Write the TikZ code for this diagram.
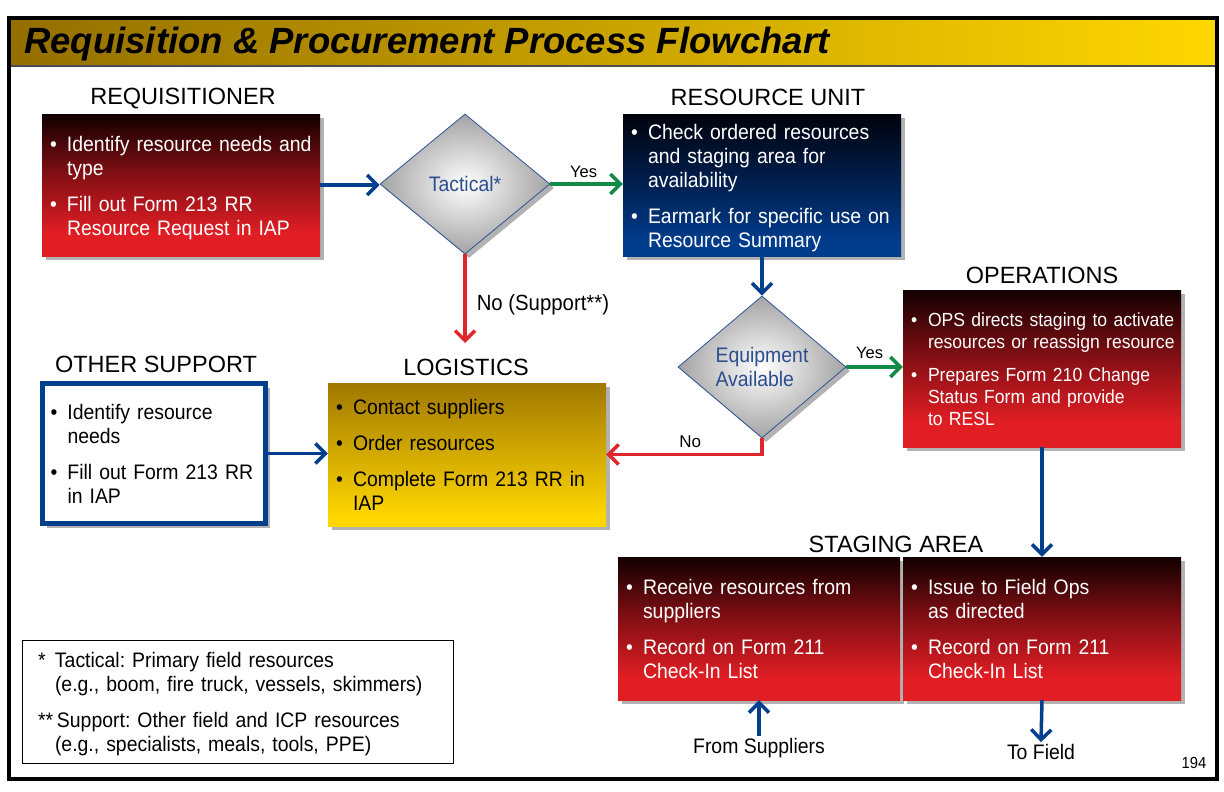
\documentclass[tikz,border=0pt]{standalone}
\usepackage{fontspec}
\setmainfont{Liberation Sans}
\newfontfamily\nfont{Liberation Sans}[FakeStretch=0.925]
\usetikzlibrary{shapes.geometric,arrows.meta,shadows,calc}
\frenchspacing
\definecolor{rT}{RGB}{18,0,0}
\definecolor{rM}{RGB}{130,15,20}
\definecolor{rB}{RGB}{224,30,36}
\definecolor{bT}{RGB}{0,2,12}
\definecolor{bM}{RGB}{0,30,75}
\definecolor{bB}{RGB}{0,60,140}
\definecolor{gT}{RGB}{160,120,0}
\definecolor{gB}{RGB}{255,215,0}
\definecolor{ablue}{RGB}{2,63,140}
\definecolor{agreen}{RGB}{18,138,72}
\definecolor{ared}{RGB}{224,38,43}
\definecolor{dborder}{RGB}{46,85,151}
\definecolor{dtext}{RGB}{43,78,140}
\pgfdeclareverticalshading{redbox}{100bp}{color(0bp)=(rB); color(33bp)=(rB); color(54bp)=(rM); color(75bp)=(rT); color(100bp)=(rT)}
\pgfdeclareverticalshading{bluebox}{100bp}{color(0bp)=(bB); color(30bp)=(bB); color(52bp)=(bM); color(75bp)=(bT); color(100bp)=(bT)}
\pgfdeclareverticalshading{goldbox}{100bp}{color(0bp)=(gB); color(28bp)=(gB); color(75bp)=(gT); color(100bp)=(gT)}
\newcommand{\bxfont}{\nfont\fontsize{21}{24}\selectfont\frenchspacing}
\newcommand{\blist}[1]{\noindent\raisebox{-3.5pt}[\height][\depth]{\begin{tabular}{@{}p{17pt}@{}l@{}}#1\end{tabular}}}
\newcommand{\llist}[1]{\noindent\raisebox{-3.5pt}[\height][\depth]{\begin{tabular}{@{}l@{}}#1\end{tabular}}}
\tikzset{
  shd/.style={drop shadow={shadow xshift=4pt,shadow yshift=-4pt,opacity=0.3,fill=black}},
  box/.style={rectangle, inner xsep=8pt, inner ysep=0pt, text width=#1, align=left, font=\bxfont, shd},
  redbx/.style={box=#1, shade, shading=redbox, text=white},
  bluebx/.style={box=#1, shade, shading=bluebox, text=white},
  goldbx/.style={box=#1, shade, shading=goldbox, text=black},
  dia/.style={diamond, inner sep=0pt, inner color=white, outer color=gray!72, draw=dborder, line width=0.8pt, text=dtext, font=\bxfont, align=left, shd},
  hdr/.style={font=\fontsize{23.5}{27}\selectfont, inner sep=2pt},
  arr/.style={line width=3.5pt, -{Straight Barb[length=10pt,width=20pt]}},
  lbl/.style={font=\fontsize{16.5}{19}\selectfont, inner sep=2pt, text=black},
  nlbl/.style={font=\nfont\fontsize{21}{24}\selectfont, inner sep=2pt, text=black}
}
\begin{document}
\begin{tikzpicture}[x=1pt,y=-1pt]
\useasboundingbox (0,0) rectangle (1224,792);
\fill[white] (0,0) rectangle (1224,792);
% title bar
\shade[left color=gT!92!black, right color=gB] (10,21) rectangle (1216,65);
\draw[gray!60!black, line width=1.5pt] (10,66) -- (1216,66);
\node[anchor=west, font=\fontsize{36.5}{40}\selectfont\bfseries\itshape, inner sep=0pt] (title) at (24,44.5) {Requisition \& Procurement Process Flowchart};
% frame
\draw[line width=4pt] (9,18) rectangle (1217,779);

% headers
\node[hdr] (reqh) at (183,99) {REQUISITIONER};
\node[hdr] (ruh) at (768,97) {RESOURCE UNIT};
\node[hdr] (opsh) at (1042,275) {OPERATIONS};
\node[hdr] (logh) at (466,367) {LOGISTICS};
\node[hdr] (othh) at (156,364) {OTHER SUPPORT};
\node[hdr] (sth) at (896,544) {STAGING AREA};

% boxes
\node[redbx=262pt, minimum height=142pt] (req) at (181,185) {\blist{\textbullet & Identify resource needs and\\ & type\\[12pt] \textbullet & Fill out Form 213 RR\\ & Resource Request in IAP}};
\node[bluebx=262pt, minimum height=142pt] (ru) at (762,185) {\blist{\textbullet & Check ordered resources\\ & and staging area for\\ & availability\\[12pt] \textbullet & Earmark for specific use on\\ & Resource Summary}};
\node[redbx=262pt, minimum height=157pt, font=\nfont\fontsize{19}{22}\selectfont] (ops) at (1042,368.5) {\blist{\textbullet & OPS directs staging to activate\\ & resources or reassign resource\\[11pt] \textbullet & Prepares Form 210 Change\\ & Status Form and provide\\ & to RESL}};
\node[goldbx=262pt, minimum height=143pt] (log) at (467,454.5) {\blist{\textbullet & Contact suppliers\\[12pt] \textbullet & Order resources\\[12pt] \textbullet & Complete Form 213 RR in\\ & IAP}};
\node[box=207pt, minimum height=140pt, fill=white, draw=ablue, line width=5pt] (oth) at (154,453.5) {\blist{\textbullet & Identify resource\\ & needs\\[12pt] \textbullet & Fill out Form 213 RR\\ & in IAP}};
\node[redbx=266pt, minimum height=143pt] (stL) at (759,628.5) {\blist{\textbullet & Receive resources from\\ & suppliers\\[12pt] \textbullet & Record on Form 211\\ & Check-In List}};
\node[redbx=262pt, minimum height=143pt] (stR) at (1042,628.5) {\blist{\textbullet & Issue to Field Ops\\ & as directed\\[12pt] \textbullet & Record on Form 211\\ & Check-In List}};

% diamonds
\node[dia, minimum width=170pt, minimum height=140pt] (tac) at (465,184) {Tactical*};
\node[dia, minimum width=168pt, minimum height=142pt] (eq) at (762,367) {Equipment\\Available};

% legend
\node[draw=black, line width=1pt, inner xsep=16pt, inner ysep=0pt, text width=399pt, minimum height=123pt, align=left, font=\bxfont] (leg) at (237.5,701.5) {\llist{\makebox[17pt][l]{*}Tactical: Primary field resources\\ \hspace{17pt}(e.g., boom, fire truck, vessels, skimmers)\\[12pt] \makebox[19pt][l]{**}Support: Other field and ICP resources\\ \hspace{17pt}(e.g., specialists, meals, tools, PPE)}};

% bottom labels
\node[nlbl] (fs) at (759,748) {From Suppliers};
\node[nlbl] (tf) at (1041,752) {To Field};
\node[font=\nfont\fontsize{16}{18}\selectfont, inner sep=1pt] (pg) at (1194,763) {194};
\coordinate (tacend) at (465,343);

% connectors
\draw[arr, ablue] (req.east) -- (req.east -| tac.west);
\draw[arr, agreen] (tac.east) -- (tac.east -| ru.west) node[lbl, midway, above=3pt, xshift=-3pt] {Yes};
\draw[arr, ablue] (ru.south) -- (eq.north);
\draw[arr, agreen] (eq.east) -- (eq.east -| ops.west) node[lbl, midway, above=5pt, xshift=-5pt] {Yes};
\draw[arr, ared] (eq.south) |- (log.east) node[lbl, pos=0.73, above=3pt, font=\fontsize{17}{19}\selectfont] {No};
\draw[arr, ared] (tac.south) -- (tacend) node[nlbl, pos=0.57, anchor=west, xshift=8pt, font=\nfont\fontsize{22}{24}\selectfont] {No (Support**)};
\draw[arr, ablue] (oth.east) -- (oth.east -| log.west);
\draw[arr, ablue] (ops.south) -- (stR.north);
\draw[arr, ablue] (fs.north) -- (fs.north |- stL.south);
\draw[arr, ablue] (stR.south) -- (tf.north);
\end{tikzpicture}
\end{document}
